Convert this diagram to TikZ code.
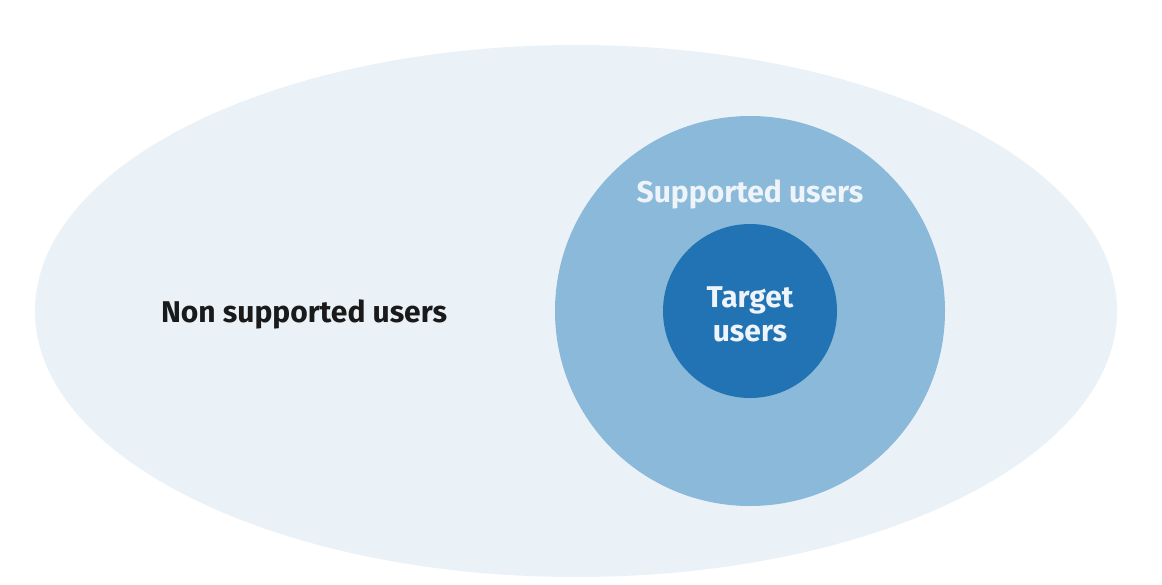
\documentclass[tikz,border=0pt]{standalone}
\usepackage{fontspec}
\setmainfont{Fira Sans}
\usetikzlibrary{shapes.geometric}
\definecolor{outerblue}{HTML}{EAF2F8}
\definecolor{midblue}{HTML}{8BB9D9}
\definecolor{innerblue}{HTML}{2273B3}
\definecolor{palewhite}{HTML}{EEF4F9}
\definecolor{darktext}{HTML}{1A1A1A}
\begin{document}
\begin{tikzpicture}[x=1pt,y=-1pt,
  zone/.style={draw=none,inner sep=0pt},
  zone text/.style={font=\fontsize{30}{34}\selectfont\bfseries,align=center}]
  \useasboundingbox[fill=white] (0,0) rectangle (1162,584);
  \node[zone,ellipse,fill=outerblue,minimum width=1082pt,minimum height=532pt] (all) at (576,311) {};
  \node[zone,circle,fill=midblue,minimum size=390pt] (supported) at (750,311) {};
  \node[zone,circle,fill=innerblue,minimum size=174pt] (target) at (750,311) {};
  \node[zone text,text=darktext] (nonlabel) at (304,314) {Non supported users};
  \node[zone text,text=palewhite] (suplabel) at (750,194) {Supported users};
  \node[zone text,text=palewhite] (tarlabel) at (750,314) {Target\\users};
\end{tikzpicture}
\end{document}
